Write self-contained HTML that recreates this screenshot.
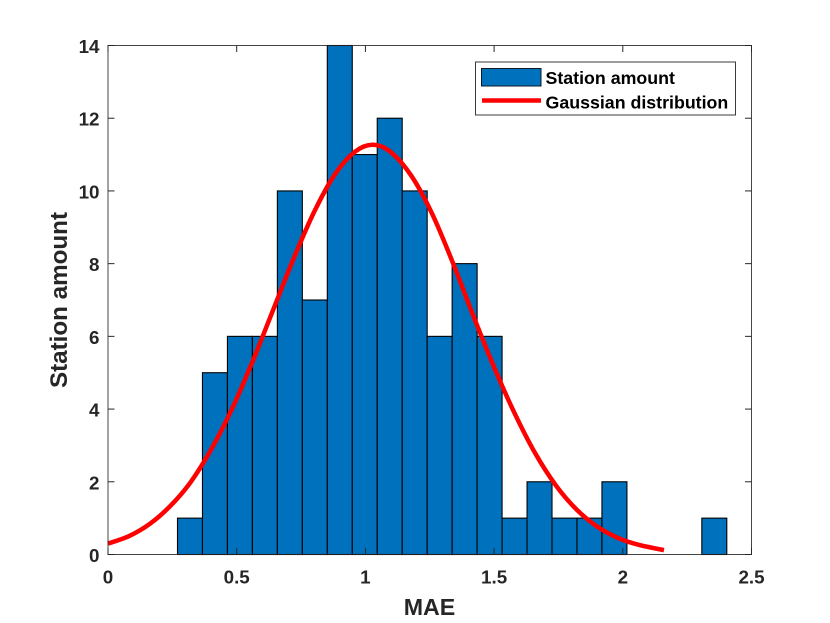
<!DOCTYPE html>
<html lang="en">
<head>
<meta charset="utf-8">
<title>Station amount histogram</title>
<style>
html,body{margin:0;padding:0;background:#fff}
svg{display:block;font-family:"Liberation Sans",Arial,sans-serif}
</style>
</head>
<body>
<svg id="chart" width="830" height="623" viewBox="0 0 830 623" xmlns="http://www.w3.org/2000/svg">
  <rect x="108" y="45.5" width="643.5" height="509" fill="#fff"/>
  <g id="bars"></g>
  <path id="curve" fill="none" stroke="#ff0000" stroke-width="4.5"/>
  <rect x="108" y="45.5" width="643.5" height="509" fill="none" stroke="#262626" stroke-width="1" opacity="0.85"/>
  <g id="axes"></g>
  <text x="429.5" y="615" text-anchor="middle" font-size="23.2" font-weight="bold" fill="#262626">MAE</text>
  <text transform="translate(67 300) rotate(-90)" text-anchor="middle" font-size="24.2" font-weight="bold" fill="#262626">Station amount</text>
  <g>
    <rect x="475.5" y="62" width="260" height="53" fill="#fff" stroke="#262626" stroke-width="1" opacity="0.9"/>
    <rect x="481.5" y="68.5" width="59.5" height="17.5" fill="#0072bd" stroke="#0b1a26" stroke-width="1"/>
    <line x1="482" y1="100.5" x2="541" y2="100.5" stroke="#ff0000" stroke-width="4.5"/>
    <text x="545.5" y="84" font-size="17.8" font-weight="bold" fill="#000">Station amount</text>
    <text x="545.5" y="108.3" font-size="17.8" font-weight="bold" fill="#000">Gaussian distribution</text>
  </g>
</svg>
<script>
const binStart = 0.27;
const binWidth = 0.097;
const counts = [1,5,6,6,10,7,14,11,12,10,6,8,6,1,2,1,1,2,0,0,0,1];
const curveX = [0,0.08,0.16,0.24,0.32,0.40,0.48,0.56,0.64,0.72,0.80,0.88,0.96,1.03,1.10,1.18,1.26,1.34,1.42,1.50,1.58,1.66,1.74,1.82,1.90,1.98,2.06,2.16];
const curveY = [0.30,0.50,0.83,1.32,1.98,2.88,3.98,5.28,6.70,8.12,9.41,10.44,11.08,11.27,11.06,10.40,9.36,8.02,6.55,5.15,3.88,2.78,1.90,1.24,0.77,0.46,0.27,0.12];
const xTicks = [0,0.5,1,1.5,2,2.5];
const yTicks = [0,2,4,6,8,10,12,14];

const NS = 'http://www.w3.org/2000/svg';
const L = 108, R = 751.5, T = 45.5, B = 554.5;
const xMax = 2.5, yMax = 14;
function sx(v){ return L + (R - L) * v / xMax; }
function sy(v){ return B - (B - T) * v / yMax; }
function make(tag, attrs, parent){
  const el = document.createElementNS(NS, tag);
  for (const k in attrs) el.setAttribute(k, attrs[k]);
  parent.appendChild(el);
  return el;
}

const barsG = document.getElementById('bars');
counts.forEach(function(c, i){
  if (c <= 0) return;
  const x0 = sx(binStart + i * binWidth);
  const x1 = sx(binStart + (i + 1) * binWidth);
  const r = make('rect', {x: x0, y: sy(c), width: x1 - x0, height: sy(0) - sy(c), fill: '#0072bd', stroke: '#000', 'stroke-width': 1.1}, barsG);
  
  
});

// Catmull-Rom smoothing through the points
const pts = curveX.map(function(x, i){ return [sx(x), sy(curveY[i])]; });
let d = 'M' + pts[0][0] + ' ' + pts[0][1];
for (let i = 0; i < pts.length - 1; i++){
  const p0 = pts[Math.max(i - 1, 0)], p1 = pts[i], p2 = pts[i + 1], p3 = pts[Math.min(i + 2, pts.length - 1)];
  d += ' C' + (p1[0] + (p2[0] - p0[0]) / 6) + ' ' + (p1[1] + (p2[1] - p0[1]) / 6) + ' ' +
       (p2[0] - (p3[0] - p1[0]) / 6) + ' ' + (p2[1] - (p3[1] - p1[1]) / 6) + ' ' + p2[0] + ' ' + p2[1];
}
document.getElementById('curve').setAttribute('d', d);

const axesG = document.getElementById('axes');
const tickLen = 6.5;
xTicks.forEach(function(v){
  const x = sx(v);
  const a = make('line', {x1: x, y1: B, x2: x, y2: B - tickLen, stroke: '#262626', 'stroke-width': 1}, axesG);
  
  
  const b = make('line', {x1: x, y1: T, x2: x, y2: T + tickLen, stroke: '#262626', 'stroke-width': 1}, axesG);
  
  
  const t = make('text', {x: x, y: 583.5, 'text-anchor': 'middle', 'font-size': 18.8, 'font-weight': 'bold', fill: '#262626'}, axesG);
  
  
  t.textContent = String(v);
});
yTicks.forEach(function(v){
  const y = sy(v);
  const a = make('line', {x1: L, y1: y, x2: L + tickLen, y2: y, stroke: '#262626', 'stroke-width': 1}, axesG);
  
  
  const b = make('line', {x1: R, y1: y, x2: R - tickLen, y2: y, stroke: '#262626', 'stroke-width': 1}, axesG);
  
  
  const t = make('text', {x: 99.5, y: y + 7.5, 'text-anchor': 'end', 'font-size': 18.8, 'font-weight': 'bold', fill: '#262626'}, axesG);
  
  
  t.textContent = String(v);
});
</script>
</body>
</html>
